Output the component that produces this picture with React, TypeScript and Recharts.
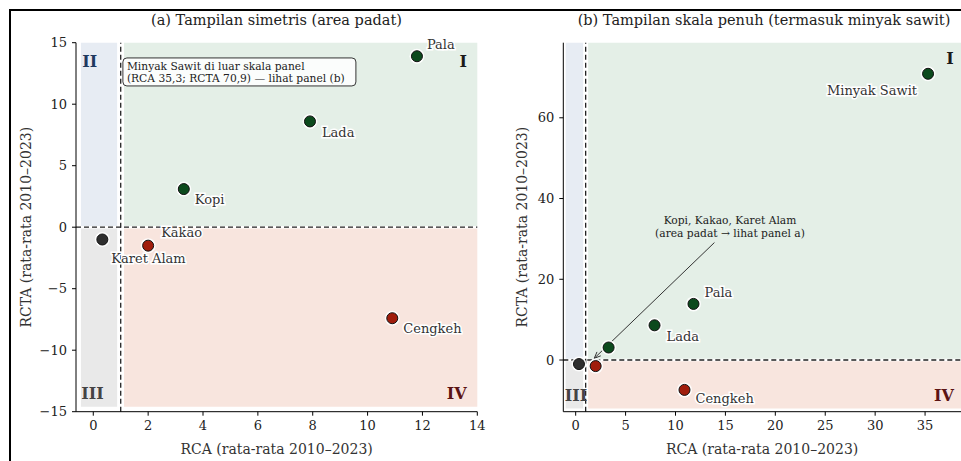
import {
  ScatterChart,
  Scatter,
  XAxis,
  YAxis,
  ReferenceArea,
  ReferenceLine,
  ReferenceDot,
} from "recharts";

const FONT = '"DejaVu Serif", serif';

// komoditas dan nilai rata-rata 2010–2023
const komoditas = ["Minyak Sawit", "Pala", "Lada", "Kopi", "Kakao", "Karet Alam", "Cengkeh"];
const rcaValues = [35.3, 11.8, 7.9, 3.3, 2.0, 0.33, 10.9];
const rctaValues = [70.9, 13.9, 8.6, 3.1, -1.5, -1.0, -7.4];

const ticksAX = [0, 2, 4, 6, 8, 10, 12, 14];
const ticksAY = [-15, -10, -5, 0, 5, 10, 15];
const ticksBX = [0, 5, 10, 15, 20, 25, 30, 35];
const ticksBY = [0, 20, 40, 60];

const rows = komoditas.map((name, i) => ({ name, rca: rcaValues[i], rcta: rctaValues[i] }));
const rowsA = rows.filter((r) => r.rca <= 14 && r.rcta <= 15);

type LabelPos = { dx: number; dy: number; anchor?: "start" | "end" };

const labelsA: Record<string, LabelPos> = {
  Pala: { dx: 10, dy: -12 },
  Lada: { dx: 12, dy: 11 },
  Kopi: { dx: 11, dy: 10 },
  Kakao: { dx: 13, dy: -13 },
  "Karet Alam": { dx: 9, dy: 19 },
  Cengkeh: { dx: 11, dy: 10 },
};

const labelsB: Record<string, LabelPos> = {
  "Minyak Sawit": { dx: -11, dy: 17, anchor: "end" },
  Pala: { dx: 11, dy: -11 },
  Lada: { dx: 12, dy: 11 },
  Cengkeh: { dx: 11, dy: 9 },
};

const quadColor = (x: number, y: number) => {
  if (x > 1 && y > 0) return "#0c4a1d";
  if (x > 1 && y < 0) return "#a01d0c";
  return "#2e2e2e";
};

const fixMinus = (v: number) => String(v).replace("-", "\u2212");

const makeMarker = (labels: Record<string, LabelPos>) => (props: any) => {
  const { cx, cy, payload } = props;
  const lp = labels[payload.name];
  return (
    <g>
      <circle cx={cx} cy={cy} r={7.5} fill="#fff" opacity={0.9} />
      <circle cx={cx} cy={cy} r={5.5} fill={quadColor(payload.rca, payload.rcta)} stroke="#111" strokeWidth={1} />
      {lp && (
        <text
          x={cx + lp.dx}
          y={cy + lp.dy}
          textAnchor={lp.anchor ?? "start"}
          dominantBaseline="central"
          fontSize={13}
          fontFamily={FONT}
          fill="#333"
          stroke="#fff"
          strokeWidth={3}
          paintOrder="stroke"
        >
          {payload.name}
        </text>
      )}
    </g>
  );
};

const roman = (text: string, color: string) => (props: any) => (
  <text
    x={props.cx}
    y={props.cy}
    textAnchor="middle"
    dominantBaseline="central"
    fontSize={16}
    fontWeight="bold"
    fontFamily={FONT}
    fill={color}
  >
    {text}
  </text>
);

const noteBox = (props: any) => (
  <g>
    <rect x={props.cx} y={props.cy} width={233} height={28} rx={4} fill="#fff" fillOpacity={0.85} stroke="#333" strokeWidth={1} />
    <text x={props.cx + 4} y={props.cy + 12} fontSize={10.7} fontFamily={FONT} fill="#222">
      Minyak Sawit di luar skala panel
    </text>
    <text x={props.cx + 4} y={props.cy + 24} fontSize={10.7} fontFamily={FONT} fill="#222">
      (RCA 35,3; RCTA 70,9) — lihat panel (b)
    </text>
  </g>
);

const noteB = (props: any) => (
  <g fontSize={10.7} fontFamily={FONT} fill="#222" textAnchor="middle">
    <text x={props.cx} y={props.cy - 3}>Kopi, Kakao, Karet Alam</text>
    <text x={props.cx} y={props.cy + 10}>(area padat → lihat panel a)</text>
  </g>
);

const arrow = (props: any) => {
  const { x1, y1, x2, y2 } = props;
  const ang = Math.atan2(y2 - y1, x2 - x1);
  const len = 7;
  const a1 = ang + Math.PI - 0.4;
  const a2 = ang + Math.PI + 0.4;
  return (
    <g stroke="#333" strokeWidth={1} fill="none">
      <line x1={x1} y1={y1} x2={x2} y2={y2} />
      <path d={`M${x2 + len * Math.cos(a1)},${y2 + len * Math.sin(a1)} L${x2},${y2} L${x2 + len * Math.cos(a2)},${y2 + len * Math.sin(a2)}`} />
    </g>
  );
};

const tickStyle = { fontSize: 13, fill: "#222", fontFamily: FONT };
const axisLabel = { fontSize: 14, fill: "#333", fontFamily: FONT };

const QUAD = { I: "#e4efe7", II: "#e7ecf3", III: "#e9e9e9", IV: "#f8e5de" };

const PanelA = () => (
  <ScatterChart width={490} height={461} margin={{ top: 42.7, right: 12.7, bottom: 0, left: 6 }}>
    <XAxis
      type="number"
      dataKey="rca"
      domain={[-0.63, 14]}
      ticks={ticksAX}
      height={49.3}
      tick={tickStyle}
      tickSize={4}
      tickMargin={5}
      stroke="#000"
      label={{ value: "RCA (rata-rata 2010–2023)", position: "insideBottom", offset: 7, style: axisLabel }}
    />
    <YAxis
      type="number"
      dataKey="rcta"
      domain={[-15, 15]}
      ticks={ticksAY}
      width={70}
      tick={tickStyle}
      tickSize={4}
      tickMargin={5}
      tickFormatter={fixMinus}
      stroke="#000"
      label={{ value: "RCTA (rata-rata 2010–2023)", angle: -90, position: "insideLeft", offset: 20, style: { ...axisLabel, textAnchor: "middle" } }}
    />
    <ReferenceArea x1={-0.45} x2={0.87} y1={0.1} y2={15} fill={QUAD.II} fillOpacity={1} stroke="none" />
    <ReferenceArea x1={1.12} x2={14} y1={0.1} y2={15} fill={QUAD.I} fillOpacity={1} stroke="none" />
    <ReferenceArea x1={-0.45} x2={0.87} y1={-14.6} y2={-0.1} fill={QUAD.III} fillOpacity={1} stroke="none" />
    <ReferenceArea x1={1.12} x2={14} y1={-14.6} y2={-0.1} fill={QUAD.IV} fillOpacity={1} stroke="none" />
    <ReferenceLine x={1} stroke="#222" strokeDasharray="5 3" strokeWidth={1.3} />
    <ReferenceLine y={0} stroke="#222" strokeDasharray="5 3" strokeWidth={1.3} />
    <ReferenceDot x={-0.13} y={13.5} r={0} shape={roman("II", "#1f3a5f")} />
    <ReferenceDot x={13.49} y={13.5} r={0} shape={roman("I", "#1a1a1a")} />
    <ReferenceDot x={-0.03} y={-13.5} r={0} shape={roman("III", "#444")} />
    <ReferenceDot x={13.25} y={-13.5} r={0} shape={roman("IV", "#5c1414")} />
    <ReferenceDot x={1.08} y={13.76} r={0} shape={noteBox} />
    <Scatter data={rowsA} shape={makeMarker(labelsA)} isAnimationActive={false} />
  </ScatterChart>
);

const PanelB = () => (
  <ScatterChart width={471} height={461} margin={{ top: 42.7, right: 0, bottom: 0, left: 3.3 }}>
    <XAxis
      type="number"
      dataKey="rca"
      domain={[-1.24, 38.6]}
      ticks={ticksBX}
      height={49.3}
      tick={tickStyle}
      tickSize={4}
      tickMargin={5}
      stroke="#000"
      label={{ value: "RCA (rata-rata 2010–2023)", position: "insideBottom", offset: 7, style: axisLabel }}
    />
    <YAxis
      type="number"
      dataKey="rcta"
      domain={[-12.8, 78.6]}
      ticks={ticksBY}
      width={70}
      tick={tickStyle}
      tickSize={4}
      tickMargin={5}
      stroke="#000"
      label={{ value: "RCTA (rata-rata 2010–2023)", angle: -90, position: "insideLeft", offset: 29, style: { ...axisLabel, textAnchor: "middle" } }}
    />
    <ReferenceArea x1={-1.0} x2={0.75} y1={0.3} y2={78.6} fill={QUAD.II} fillOpacity={1} stroke="none" />
    <ReferenceArea x1={1.25} x2={38.6} y1={0.3} y2={78.6} fill={QUAD.I} fillOpacity={1} stroke="none" />
    <ReferenceArea x1={-1.0} x2={0.75} y1={-12} y2={-0.3} fill={QUAD.III} fillOpacity={1} stroke="none" />
    <ReferenceArea x1={1.25} x2={38.6} y1={-12} y2={-0.3} fill={QUAD.IV} fillOpacity={1} stroke="none" />
    <ReferenceLine x={1} stroke="#222" strokeDasharray="5 3" strokeWidth={1.3} />
    <ReferenceLine y={0} stroke="#222" strokeDasharray="5 3" strokeWidth={1.3} />
    <ReferenceDot x={37.5} y={74.8} r={0} shape={roman("I", "#1a1a1a")} />
    <ReferenceDot x={0.03} y={-8.7} r={0} shape={roman("III", "#444")} />
    <ReferenceDot x={36.9} y={-8.7} r={0} shape={roman("IV", "#5c1414")} />
    <ReferenceLine
      segment={[
        { x: 13.9, y: 29.1 },
        { x: 1.86, y: 0.42 },
      ]}
      shape={arrow}
    />
    <ReferenceDot x={15.46} y={32.9} r={0} shape={noteB} />
    <Scatter data={rows} shape={makeMarker(labelsB)} isAnimationActive={false} />
  </ScatterChart>
);

const titleStyle = {
  position: "absolute" as const,
  top: 11,
  fontFamily: FONT,
  fontSize: 14.5,
  lineHeight: "18px",
  color: "#222",
  textAlign: "center" as const,
};

export default function App() {
  return (
    <div style={{ position: "absolute", left: 0, top: 0, width: 961, height: 461, overflow: "hidden", background: "#fff" }}>
      <div style={{ position: "absolute", left: 0, top: 0 }}>
        <PanelA />
      </div>
      <div style={{ position: "absolute", left: 490, top: 0 }}>
        <PanelB />
      </div>
      <div style={{ ...titleStyle, left: 76, width: 401 }}>(a) Tampilan simetris (area padat)</div>
      <div style={{ ...titleStyle, left: 565, width: 398 }}>(b) Tampilan skala penuh (termasuk minyak sawit)</div>
      <div
        style={{
          position: "absolute",
          left: 9,
          top: 9,
          width: 980,
          height: 480,
          borderLeft: "2px solid #000",
          borderTop: "2px solid #000",
          pointerEvents: "none",
        }}
      />
    </div>
  );
}
